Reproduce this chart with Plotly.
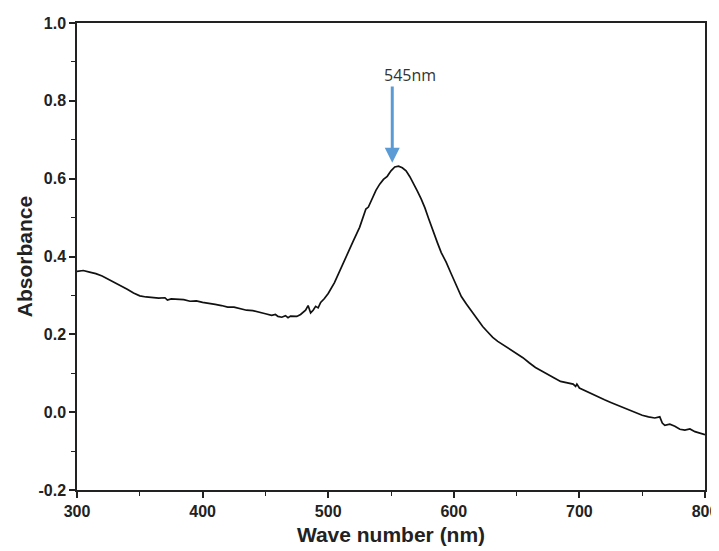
import plotly.graph_objects as go

wavelength = [300, 305, 310, 315, 320, 325, 330, 335, 340, 345, 350, 355, 360, 365, 370, 372, 375, 380, 385, 390,
              395, 400, 405, 410, 415, 420, 425, 430, 435, 440, 445, 450, 455, 458, 460, 463, 466, 468, 470, 475,
              478, 482, 484, 486, 488, 490, 492, 494, 497, 500, 505, 510, 515, 520, 525, 528, 530, 532, 535, 538,
              541, 544, 547, 550, 553, 556, 559, 562, 565, 568, 571, 574, 577, 580, 583, 587, 590, 594, 598, 602,
              606, 610, 613, 617, 620, 623, 627, 631, 635, 640, 645, 650, 655, 660, 665, 670, 675, 680, 685, 690,
              695, 697, 698, 700, 705, 710, 715, 720, 725, 730, 735, 740, 745, 750, 755, 760, 764, 766, 768, 772,
              776, 780, 784, 788, 792, 796, 800]
absorbance = [0.362, 0.364, 0.360, 0.356, 0.350, 0.342, 0.333, 0.324, 0.316, 0.306, 0.299, 0.296, 0.295, 0.293, 0.294, 0.288, 0.291, 0.290, 0.289, 0.285,
              0.286, 0.282, 0.280, 0.277, 0.274, 0.270, 0.270, 0.266, 0.262, 0.261, 0.256, 0.253, 0.249, 0.251, 0.246, 0.244, 0.248, 0.243, 0.247, 0.246,
              0.251, 0.262, 0.274, 0.255, 0.262, 0.272, 0.268, 0.282, 0.292, 0.305, 0.333, 0.370, 0.405, 0.440, 0.475, 0.505, 0.522, 0.527, 0.550, 0.570,
              0.586, 0.598, 0.606, 0.620, 0.630, 0.632, 0.628, 0.620, 0.605, 0.588, 0.568, 0.548, 0.525, 0.497, 0.469, 0.435, 0.410, 0.385, 0.355, 0.325,
              0.297, 0.278, 0.264, 0.245, 0.232, 0.220, 0.206, 0.192, 0.182, 0.172, 0.160, 0.150, 0.140, 0.127, 0.115, 0.106, 0.098, 0.088, 0.079, 0.075,
              0.072, 0.066, 0.072, 0.062, 0.054, 0.047, 0.040, 0.032, 0.025, 0.018, 0.011, 0.004, -0.003, -0.008, -0.012, -0.015, -0.012, -0.028, -0.034, -0.031,
              -0.036, -0.044, -0.046, -0.043, -0.050, -0.054, -0.058]

x_ticks = [300, 400, 500, 600, 700, 800]
x_tick_labels = ["300", "400", "500", "600", "700", "800"]
y_ticks = [-0.2, 0.0, 0.2, 0.4, 0.6, 0.8, 1.0]
y_tick_labels = ["-0.2", "0.0", "0.2", "0.4", "0.6", "0.8", "1.0"]

peak_label = "545nm"
peak_x = 551
peak_y = 0.641
arrow_tail_y = 0.841
label_x = 565
label_y = 0.867

fig = go.Figure()
fig.add_trace(go.Scatter(x=wavelength, y=absorbance, mode="lines",
                         line=dict(color="#111111", width=1.7), showlegend=False))

fig.add_annotation(x=peak_x, y=peak_y, ax=peak_x, ay=arrow_tail_y, xref="x", yref="y",
                   axref="x", ayref="y", text="", showarrow=True, arrowhead=2,
                   arrowsize=1, arrowwidth=3, arrowcolor="#5B9BD5")
fig.add_annotation(x=label_x, y=label_y, xref="x", yref="y", text=peak_label, showarrow=False,
                   font=dict(family="Open Sans", size=16, color="#333333"))

axis_common = dict(showline=True, linecolor="#222222", linewidth=1.5, mirror=True,
                   ticks="outside", ticklen=6, tickwidth=1.5, tickcolor="#222222",
                   showgrid=False, zeroline=False, automargin=False,
                   tickfont=dict(family="Liberation Sans", size=16, color="#222222", weight="bold"),
                   title_font=dict(family="Liberation Sans", size=21, color="#222222", weight="bold"))

fig.update_xaxes(range=[300, 800], tickmode="array", tickvals=x_ticks, ticktext=x_tick_labels,
                 minor=dict(ticks="outside", ticklen=4, dtick=50, tick0=300, tickcolor="#222222", tickwidth=1.2),
                 title_text="Wave number (nm)", title_standoff=8, **axis_common)
fig.update_yaxes(range=[-0.2, 1.0], tickmode="array", tickvals=y_ticks, ticktext=y_tick_labels,
                 minor=dict(ticks="outside", ticklen=4, dtick=0.1, tick0=0, tickcolor="#222222", tickwidth=1.2),
                 title_text="Absorbance", title_standoff=0, **axis_common)

fig.update_layout(width=711, height=543, margin=dict(l=69, r=14, t=15, b=61),
                  plot_bgcolor="white", paper_bgcolor="white")

fig.write_html("out.html")
